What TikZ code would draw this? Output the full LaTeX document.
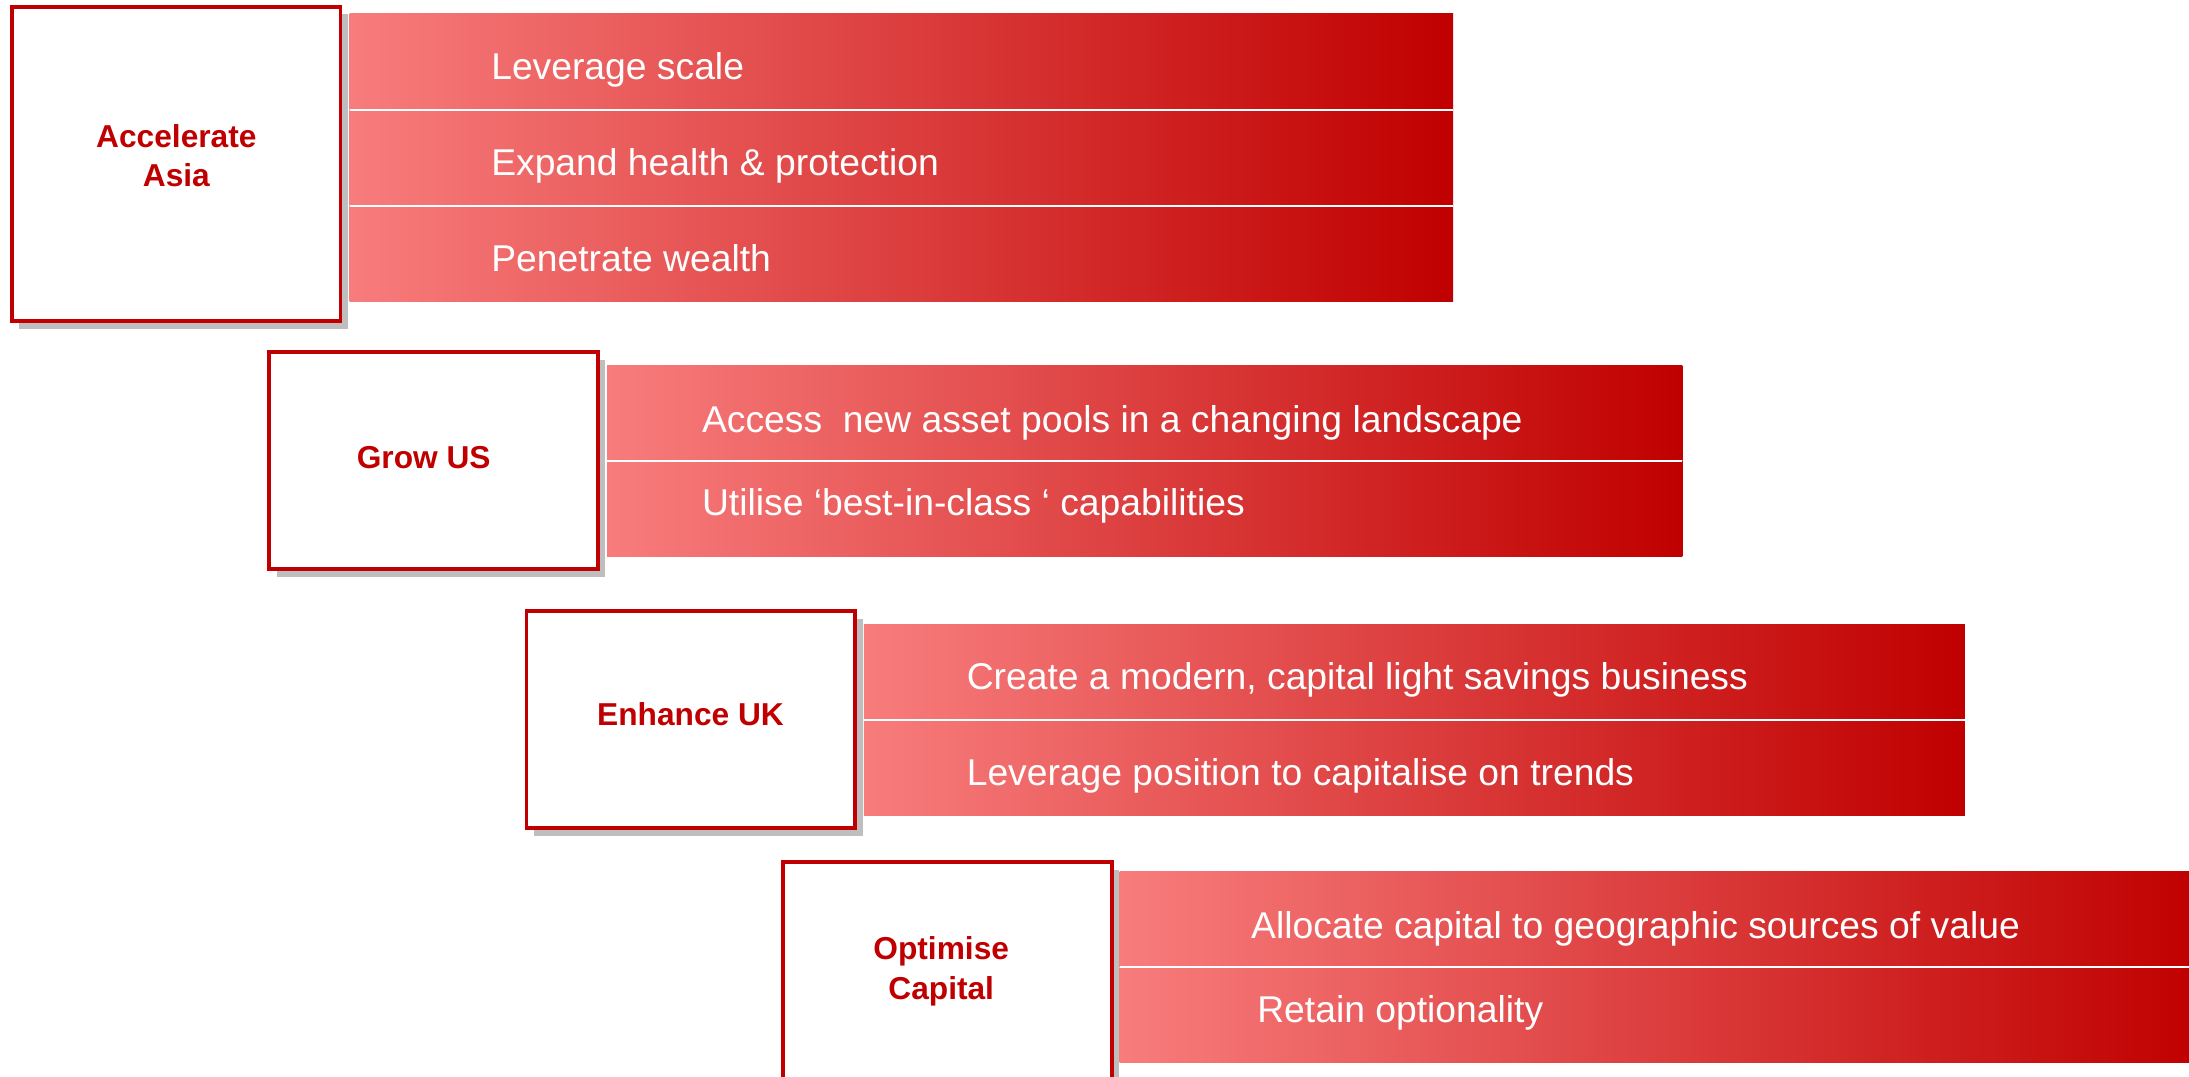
\documentclass[tikz,border=0pt]{standalone}
\usepackage{fontspec}
\setmainfont{Liberation Sans}
\usetikzlibrary{shadows}
\definecolor{dred}{HTML}{C00000}
\definecolor{salmon}{HTML}{F87C7C}
\definecolor{shadowgray}{HTML}{BEBEBE}
\begin{document}
\begin{tikzpicture}[x=1pt,y=-1pt,
  goalbox/.style={draw=dred, line width=2.7pt, fill=white, inner sep=0pt, outer sep=0pt,
    minimum width=235.5pt, anchor=north west,
    drop shadow={shadow xshift=5.5pt, shadow yshift=-5.5pt, fill=shadowgray, opacity=1}},
  barrow/.style={left color=salmon, right color=dred, inner sep=0pt, outer sep=0pt,
    draw=none, minimum height=68.67pt, anchor=north west},
  rowtext/.style={anchor=base west, inner sep=0pt, text=white,
    font=\fontsize{26.7}{32}\selectfont},
  goaltext/.style={text=dred, font=\bfseries\fontsize{22.7}{28.2}\selectfont,
    align=center, inner sep=0pt, anchor=base},
  divider/.style={draw=white, line width=1.2pt}]
\useasboundingbox (0,0) rectangle (1568,771.4);
\clip (0,0) rectangle (1568,771.4);

% ---- Accelerate Asia ----
\node[goalbox, minimum height=225.1pt] (b1) at (8.35,4.75) {};
\node[barrow, minimum width=790.5pt] (r11) at (250.4,10) {};
\node[barrow, minimum width=790.5pt] (r12) at (250.4,78.67) {};
\node[barrow, minimum width=790.5pt] (r13) at (250.4,147.33) {};
\draw[divider] (r11.south west) -- (r11.south east);
\draw[divider] (r12.south west) -- (r12.south east);
\node[goaltext] (t1) at (126.35,133.7) {Accelerate\\Asia};
\node[rowtext] (s11) at (351.7,56.8) {Leverage scale};
\node[rowtext] (s12) at (351.7,125.8) {Expand health \& protection};
\node[rowtext] (s13) at (351.7,194.6) {Penetrate wealth};

% ---- Grow US ----
\node[goalbox, minimum height=155.4pt] (b2) at (192.65,252.05) {};
\node[barrow, minimum width=770.2pt] (r21) at (434.8,261.5) {};
\node[barrow, minimum width=770.2pt] (r22) at (434.8,330.17) {};
\draw[divider] (r21.south west) -- (r21.south east);
\node[goaltext] (t2) at (303.5,335.5) {Grow US};
\node[rowtext] (s21) at (502.7,310) {Access\ \ new asset pools in a changing landscape};
\node[rowtext] (s22) at (502.7,369.4) {Utilise ‘best-in-class ‘ capabilities};

% ---- Enhance UK ----
\node[goalbox, minimum height=155.7pt] (b3) at (377.15,437.55) {};
\node[barrow, minimum width=788.7pt] (r31) at (618.8,447) {};
\node[barrow, minimum width=788.7pt] (r32) at (618.8,515.67) {};
\draw[divider] (r31.south west) -- (r31.south east);
\node[goaltext] (t3) at (494.6,520) {Enhance UK};
\node[rowtext] (s31) at (692.3,493.8) {Create a modern, capital light savings business};
\node[rowtext] (s32) at (692.3,562.3) {Leverage position to capitalise on trends};

% ---- Optimise Capital ----
\node[goalbox, minimum height=155.3pt] (b4) at (560.85,617.35) {};
\node[barrow, minimum width=773.1pt] (r41) at (801.9,624) {};
\node[barrow, minimum width=773.1pt] (r42) at (801.9,692.67) {};
\draw[divider] (r41.south west) -- (r41.south east);
\node[goaltext] (t4) at (674.2,715.8) {Optimise\\Capital};
\node[rowtext] (s41) at (896,672.1) {Allocate capital to geographic sources of value};
\node[rowtext] (s42) at (900.4,732.6) {Retain optionality};
\end{tikzpicture}
\end{document}
